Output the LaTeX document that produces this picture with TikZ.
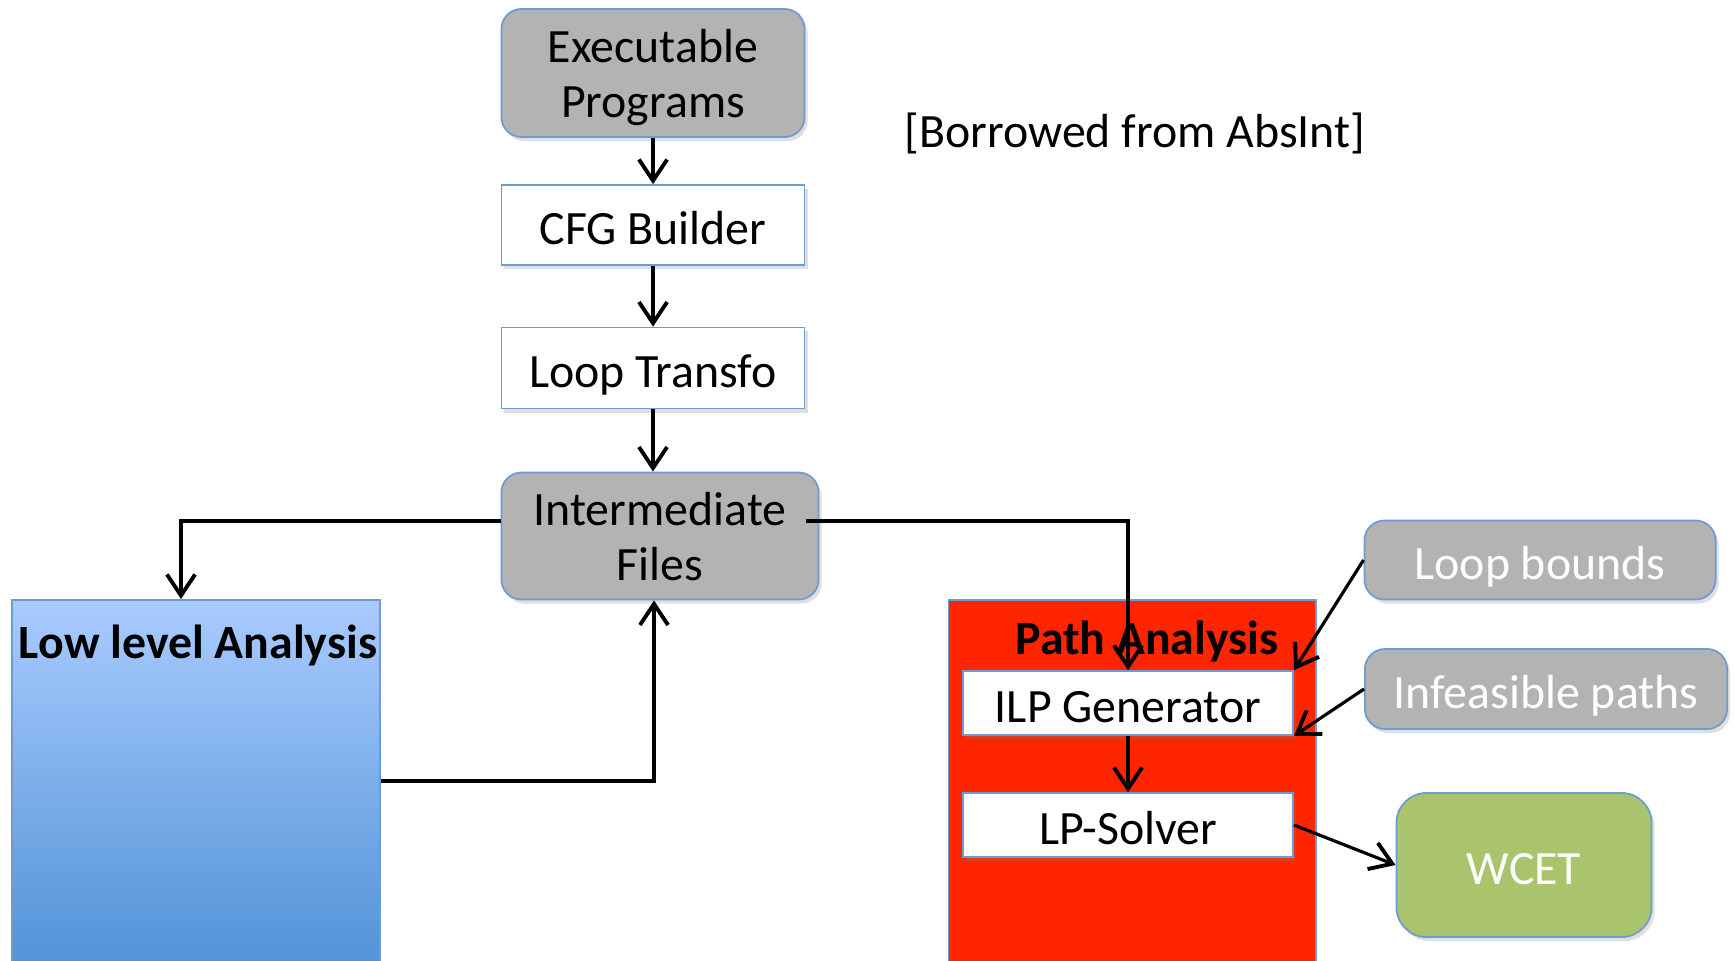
\documentclass[tikz,border=0pt]{standalone}
\usepackage{fontspec}
\setmainfont{Carlito}
\usetikzlibrary{arrows.meta,shadows}
\definecolor{BoxGray}{HTML}{B3B3B3}
\definecolor{EdgeBlue}{HTML}{6D9CD3}
\definecolor{PathRed}{HTML}{FF2500}
\definecolor{WcetGreen}{HTML}{A9C46D}
\definecolor{LowTop}{HTML}{A9CBFF}
\definecolor{LowBot}{HTML}{5393D7}

\begin{document}
\begin{tikzpicture}[x=0.01cm,y=-0.01cm,
  every node/.style={font=\fontsize{13.6}{15.7}\selectfont,inner sep=0pt},
  title/.style={font=\fontsize{13.6}{15.7}\selectfont\bfseries},
  oneline/.style={text height=12.5pt,text depth=1.5pt},
  soft/.style={drop shadow={opacity=0.25,shadow xshift=0.03cm,shadow yshift=-0.04cm}},
  graybox/.style={draw=EdgeBlue,line width=0.5pt,fill=BoxGray,rounded corners=0.2cm,align=center,soft},
  whitebox/.style={draw=EdgeBlue,line width=0.5pt,fill=white,oneline,soft},
  flow/.style={draw,line width=0.9pt,-{Straight Barb[length=6pt,width=8pt,line width=1.1pt]}}]
\useasboundingbox (0,0) rectangle (1734,960);
\node[graybox,text depth=-1pt,minimum width=3.03cm,minimum height=1.28cm] (exec) at (653,73) {Executable\\Programs};
\node[whitebox,minimum width=3.03cm,minimum height=0.8cm] (cfg) at (653,225) {CFG Builder};
\node[whitebox,minimum width=3.03cm,minimum height=0.81cm] (loop) at (653,368) {Loop Transfo};
\node[graybox,text depth=-1pt,minimum width=3.17cm,minimum height=1.27cm] (inter) at (660,536) {Intermediate\\Files};
\node[draw=EdgeBlue,line width=0.5pt,top color=LowTop,bottom color=LowBot,
  minimum width=3.68cm,minimum height=3.62cm] (low) at (196,781) {};
\node[title] (lowtitle) at (198,645) {Low level Analysis};
\node[draw=EdgeBlue,line width=0.5pt,fill=PathRed,minimum width=3.67cm,minimum height=3.62cm] (path) at (1132,781) {};
\node[title] (pathtitle) at (1147,641) {Path Analysis};
\node[whitebox,minimum width=3.3cm,minimum height=0.64cm] (ilp) at (1128,703) {ILP Generator};
\node[whitebox,minimum width=3.3cm,minimum height=0.64cm] (lp) at (1128,825) {LP-Solver};
\node[graybox,oneline,text=white,minimum width=3.51cm,minimum height=0.79cm] (lb) at (1540,560) {Loop bounds};
\node[graybox,oneline,text=white,minimum width=3.62cm,minimum height=0.8cm] (inf) at (1546,689) {Infeasible paths};
\node[graybox,oneline,fill=WcetGreen,text=white,rounded corners=0.3cm,minimum width=2.55cm,minimum height=1.44cm] (wcet) at (1524,865) {WCET};
\node (note) at (1135,133) {[Borrowed from AbsInt]};
% connectors
\draw[flow] (exec) -- (cfg);
\draw[flow] (cfg) -- (loop);
\draw[flow] (loop) -- (loop |- inter.north);
\draw[flow] ([yshift=0.15cm]inter.west) -| ([xshift=-0.15cm]low.north);
\draw[flow] (low.east) -| ([xshift=-0.06cm]inter.south);
\draw[flow] ([xshift=-0.13cm,yshift=0.15cm]inter.east) -| (ilp.north);
\draw[flow] (lb.west) -- (ilp.north east);
\draw[flow] (inf.west) -- (ilp.south east);
\draw[flow] (ilp) -- (lp);
\draw[flow] (lp.east) -- (wcet.west);
\end{tikzpicture}
\end{document}
